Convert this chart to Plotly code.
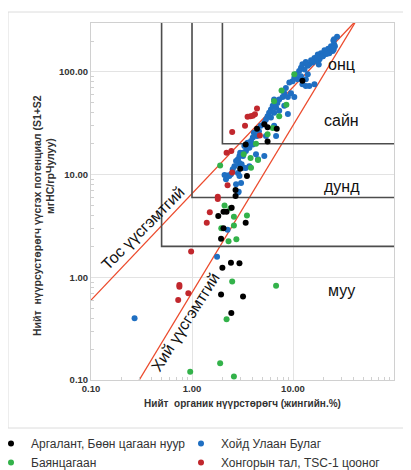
import math
import plotly.graph_objects as go

# ---------------- data ----------------
series_names = ["Аргалант, Бөөн цагаан нуур", "Хойд Улаан Булаг", "Баянцагаан", "Хонгорын тал, TSC-1 цооног"]
series_colors = ["#000000", "#1f6fc2", "#33b24a", "#c1272d"]
series_legend = ["legend", "legend2", "legend", "legend2"]

x_black = [4.4, 5.2, 5.6, 6.9, 5.6, 3.4, 12.4, 3.0, 3.5, 2.7, 2.7, 2.05, 2.2, 2.47, 1.82, 3.4,
           2.05, 1.94, 2.43, 2.95, 2.0, 1.94, 3.2, 2.45]
y_black = [28, 31, 29, 28, 21, 19.7, 82, 11.4, 9.7, 7.1, 6.2, 4.35, 4.35, 4.75, 3.95, 3.4,
           3.0, 2.38, 1.39, 1.37, 1.24, 0.68, 0.65, 0.45]

x_blue = [27.3, 25.5, 22.7, 20.9, 18.9, 17.6, 16.3, 19.8, 18.3, 16.9, 15.7, 14.5, 14.0, 13.0, 12.0,
          12.4, 13.4, 15.1, 11.5, 10.7, 10.3, 11.1, 9.9, 12.0, 14.0, 13.4, 14.5, 12.4, 9.2, 8.5,
          8.2, 7.9, 8.9, 9.55, 7.3, 7.0, 6.5, 6.3, 6.8, 6.05, 5.8, 5.6, 6.5, 7.3, 6.05,
          5.4, 5.2, 4.8, 4.6, 4.1, 4.4, 4.0, 3.84, 3.55, 3.3, 3.7, 3.42, 3.2, 3.06, 2.95,
          2.85, 2.73, 2.95, 2.63, 2.53, 2.43, 2.25, 2.17, 2.85, 2.95, 3.06, 2.73, 2.85, 5.2, 6.5,
          6.8, 23.8, 22.3, 20.5, 24.7, 22.9, 17.5, 25.5, 25.1, 19.6, 25.3, 26.0, 3.2, 2.95, 3.2,
          3.7, 2.34, 3.55, 4.0, 4.3, 4.5, 2.25, 2.9, 1.77, 2.25, 2.1, 0.27, 3.1, 3.4, 3.0,
          13.4, 16.3, 10.3, 8.2, 8.9, 5.4, 24.7, 21.5, 18.0]
y_blue = [220, 208, 166, 160, 152, 148, 137, 142, 133, 129, 124, 119, 115, 106, 110,
          119, 125, 130, 102, 95, 88, 85, 81, 91, 95, 85, 73, 76, 79, 70,
          62, 57, 57, 62, 54, 50, 54, 47, 45, 43, 40, 37, 40, 42, 36,
          34.5, 32, 30, 26.5, 25.6, 23.8, 23, 21.3, 20.5, 19, 18.3, 17, 16.3, 15.8, 15.2,
          14.1, 13.6, 12.6, 12.1, 11.3, 10.1, 9.7, 9.0, 10.4, 9.7, 8.3, 8.05, 6.7, 15.2, 30,
          23.8, 178, 168, 163, 160, 152, 142, 186, 203, 142, 166, 178, 15.2, 13.0, 11.7,
          12.1, 9.7, 18.3, 19.7, 15.8, 14.1, 9.8, 6.8, 1.59, 2.9, 9.9, 0.40, 12.6, 11.6, 16.3,
          73, 76, 57, 47, 39, 23.8, 170, 150, 118]

x_green = [10.3, 7.7, 6.5, 8.6, 7.3, 6.3, 5.6, 4.3, 3.25, 3.8, 4.5, 3.84, 1.9, 2.1, 2.4, 2.6,
           3.5, 1.95, 2.6, 2.3, 2.75, 2.5, 6.8, 2.2, 1.9, 0.96, 2.6]
y_green = [95, 66, 52, 48, 37, 28.5, 24.7, 20, 15.8, 14.5, 13.9, 11.7, 12.3, 5.0, 4.7, 3.9,
           4.0, 3.0, 3.2, 2.25, 2.35, 0.91, 0.83, 0.39, 0.146, 0.12, 0.108]

x_red = [4.4, 4.2, 4.0, 3.8, 3.55, 3.35, 2.5, 4.7, 2.2, 2.45, 2.5, 2.25, 1.8, 1.8, 1.5, 1.4,
         0.98, 0.75, 0.75, 0.92, 0.73]
y_red = [44, 38.7, 37.5, 37, 36.6, 30, 26, 24, 16.3, 17, 10.5, 7.9, 6.1, 5.8, 4.3, 3.4,
         1.78, 0.84, 0.81, 0.70, 0.60]

# quality boxes: (TOC threshold, S1+S2 threshold)
box_toc = [0.5, 1.0, 2.0]
box_s12 = [2.0, 6.0, 20.0]

# kerogen lines (end points)
oil_line_x = [0.1, 40.0]
oil_line_y = [0.6, 300.0]
gas_line_x = [0.3, 41.0]
gas_line_y = [0.1, 300.0]

x_tickvals = [0.1, 1, 10, 100]
x_ticktext = ["0.10", "1.00", "10.00", "100.00"]
y_tickvals = [0.1, 1, 10, 100]
y_ticktext = ["0.10", "1.00", "10.00", "100.00"]

quality_labels = ["онц", "сайн", "дунд", "муу"]
quality_y = [118, 34, 7.6, 0.74]
quality_x = 30.5

# ---------------- layout geometry ----------------
# the page body adds an 8 px offset; figure fills the rest of the 411x470 window
OFF = 8
W, H = 411 - OFF, 470 - OFF
PL, PR, PT, PB = 91, 394, 23, 380          # plot area in window pixels
L, R, T, B = PL - OFF, W - (PR - OFF), PT - OFF, H - (PB - OFF)
PW, PH = PR - PL, PB - PT


def px(xw):
    return (xw - PL) / PW


def py(yw):
    return (PB - yw) / PH


# the last x tick label sits at the window edge: pad it on the right (non-breaking
# spaces) so the centred label is pulled inside the visible area
x_ticktext_shown = x_ticktext[:-1] + [x_ticktext[-1] + "\u00a0" * 4]

# ---------------- figure ----------------
fig = go.Figure()

fig.add_trace(go.Scatter(x=oil_line_x, y=oil_line_y, mode="lines",
                         line=dict(color="#ec4a2c", width=1.3), showlegend=False, hoverinfo="skip"))
fig.add_trace(go.Scatter(x=gas_line_x, y=gas_line_y, mode="lines",
                         line=dict(color="#ec4a2c", width=1.3), showlegend=False, hoverinfo="skip"))

for bx, by in zip(box_toc, box_s12):
    fig.add_trace(go.Scatter(x=[bx, bx, 100], y=[300, by, by], mode="lines",
                             line=dict(color="#4d4d4d", width=1.6), showlegend=False, hoverinfo="skip"))

xs = [x_black, x_blue, x_green, x_red]
ys = [y_black, y_blue, y_green, y_red]
for i in [1, 2, 3, 0]:
    fig.add_trace(go.Scatter(x=xs[i], y=ys[i], mode="markers", name=series_names[i],
                             legend=series_legend[i], legendrank=i + 1,
                             marker=dict(color=series_colors[i], size=6, line=dict(width=0))))

minor_vals = [m * 10 ** e for e in range(-1, 3) for m in range(2, 10)]

axis_common = dict(type="log", tickmode="array",
                   showgrid=True, gridcolor="#e3e3e3", gridwidth=1,
                   showline=True, linecolor="#d0d0d0", linewidth=1, mirror=True,
                   ticks="", zeroline=False,
                   minor=dict(tickvals=minor_vals, ticks="inside", ticklen=3, tickcolor="#d0d0d0", showgrid=False),
                   tickfont=dict(family="Liberation Sans", size=9.5, color="#333333", weight="bold"))
fig.update_xaxes(range=[-1, 2], tickvals=x_tickvals, ticktext=x_ticktext_shown,
                 title=dict(text="Нийт  органик нүүрстөрөгч (жингийн.%)", standoff=6,
                            font=dict(family="Liberation Sans", size=10, color="#333333", weight="bold")),
                 **axis_common)
fig.update_yaxes(range=[-1, 2.477], tickvals=y_tickvals, ticktext=y_ticktext, **axis_common)

ann = []
for lab, qy in zip(quality_labels, quality_y):
    ann.append(dict(x=math.log10(quality_x), y=math.log10(qy), xref="x", yref="y", text=lab, showarrow=False,
                    font=dict(family="Liberation Sans", size=16, color="#111111"),
                    xanchor="center", yanchor="middle"))
ann.append(dict(x=-0.49, y=0.477, xref="x", yref="y", text="Тос үүсгэмтгий", showarrow=False,
                textangle=-45, font=dict(family="Liberation Sans", size=16, color="#111111")))
ann.append(dict(x=-0.069, y=-0.438, xref="x", yref="y", text="Хий үүсгэмтгий", showarrow=False,
                textangle=-57.6, font=dict(family="Liberation Sans", size=16, color="#111111")))
ann.append(dict(x=px(29), y=py(216), xref="paper", yref="paper",
                text="Нийт  нүүрсустөрөгч үүсгэх потенциал (S1+S2", showarrow=False, textangle=-90,
                font=dict(family="Liberation Sans", size=10.5, color="#333333", weight="bold")))
ann.append(dict(x=px(42), y=py(176), xref="paper", yref="paper",
                text="мгНС/грЧулуу)", showarrow=False, textangle=-90,
                font=dict(family="Liberation Sans", size=10.5, color="#333333", weight="bold")))

legend_common = dict(orientation="v", xanchor="left", yanchor="top", itemwidth=30,
                     font=dict(family="Liberation Sans", size=12, color="#333333"),
                     bgcolor="rgba(0,0,0,0)", traceorder="normal", tracegroupgap=0)

fig.update_layout(
    width=W, height=H,
    margin=dict(l=L, r=R, t=T, b=B, autoexpand=False),
    paper_bgcolor="white", plot_bgcolor="white",
    annotations=ann,
    shapes=[dict(type="rect", xref="paper", yref="paper",
                 x0=px(8), x1=px(420), y0=py(428), y1=py(12),
                 line=dict(color="#dcdcdc", width=1), layer="below")],
    legend=dict(x=px(-9), y=py(429), **legend_common),
    legend2=dict(x=px(181), y=py(429), **legend_common),
)

fig.write_html("out.html")
